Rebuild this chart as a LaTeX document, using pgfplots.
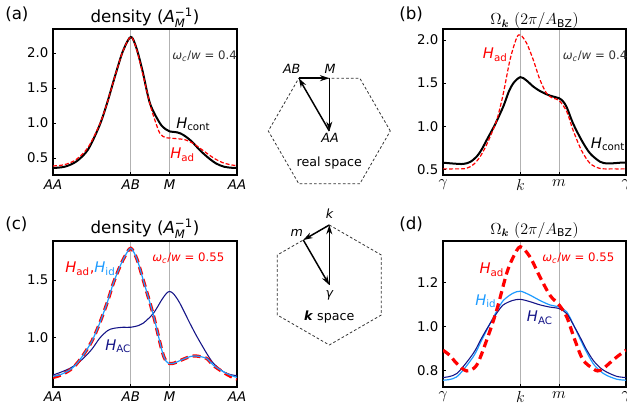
\documentclass[border=0pt]{standalone}
\usepackage{amsmath}
\usepackage{bm}
\usepackage{fontspec}
\setmainfont{DejaVu Sans}
\usepackage{pgfplots}
\pgfplotsset{compat=1.18}
\usetikzlibrary{arrows.meta}

\definecolor{hred}{RGB}{255,0,0}
\definecolor{hid}{RGB}{30,155,255}
\definecolor{hac}{RGB}{20,20,135}

\pgfplotsset{
  panel/.style={
    scale only axis, anchor=south west, height=109.5pt,
    xmin=0, xmax=2.366, xtick={0,1,1.5,2.366},
    xmajorgrids, grid style={gray!60, line width=0.6pt},
    tick pos=left, tick align=inside, major tick length=2.5pt,
    tick style={black, line width=0.7pt},
    axis line style={line width=0.9pt},
    ticklabel style={font=\fontsize{10}{12}\selectfont},
    /pgf/number format/assume math mode=true,
    /pgf/number format/fixed, /pgf/number format/fixed zerofill,
    /pgf/number format/precision=1,
    every axis plot/.append style={smooth, no markers},
  },
  realx/.style={xticklabels={\textit{AA},\textit{AB},\textit{M},\textit{AA}}},
  kx/.style={xticklabels={$\gamma$,$k$,$m$,$\gamma$},
    xticklabel style={font=\fontsize{12}{14}\selectfont}},
  cont/.style={black, line width=1.5pt},
  adthin/.style={hred, line width=0.9pt, dash pattern=on 3pt off 1.5pt},
  adthick/.style={hred, line width=2.4pt, dash pattern=on 6pt off 3.5pt},
  idline/.style={hid, line width=0.9pt},
  acline/.style={hac, line width=0.8pt},
}

\newcommand{\lab}{\fontsize{11}{13}\selectfont}
\newcommand{\ann}{\fontsize{8.8}{10}\selectfont}

\begin{document}
\begin{tikzpicture}[x=0.75pt, y=0.75pt]
\useasboundingbox (0,0) rectangle (627,414);

% (a) density, real space path
\begin{axis}[panel, realx, at={(39.75pt,179.25pt)}, width=138pt,
  ymin=0.257, ymax=2.343, ytick={0.5,1,1.5,2}]
\addplot[cont] coordinates {
 (0,0.357) (0.15,0.375) (0.3,0.45) (0.45,0.62) (0.6,0.97) (0.7,1.30)
 (0.8,1.68) (0.9,2.03) (1.0,2.23) (1.07,2.08) (1.15,1.75) (1.247,1.28)
 (1.375,0.996) (1.45,0.91) (1.5,0.88) (1.6,0.865) (1.675,0.83) (1.78,0.74)
 (1.89,0.61) (2.0,0.50) (2.1,0.42) (2.2,0.375) (2.3,0.36) (2.366,0.357)};
\addplot[adthin] coordinates {
 (0,0.386) (0.15,0.405) (0.3,0.48) (0.45,0.65) (0.6,0.98) (0.7,1.30)
 (0.8,1.68) (0.9,2.03) (1.0,2.23) (1.07,2.07) (1.15,1.72) (1.247,1.27)
 (1.31,1.04) (1.375,0.85) (1.44,0.795) (1.5,0.785) (1.6,0.775) (1.7,0.76)
 (1.8,0.71) (1.89,0.64) (1.975,0.57) (2.08,0.49) (2.19,0.43) (2.3,0.40) (2.366,0.39)};
\end{axis}

% (b) Berry curvature, k space path
\begin{axis}[panel, kx, at={(332.25pt,179.25pt)}, width=137.25pt,
  ymin=0.434, ymax=2.128, ytick={0.5,1,1.5,2}]
\addplot[cont] coordinates {
 (0,0.577) (0.13,0.567) (0.26,0.562) (0.35,0.585) (0.435,0.647) (0.5,0.73)
 (0.565,0.84) (0.67,1.015) (0.78,1.23) (0.85,1.40) (0.91,1.50) (1.0,1.57)
 (1.08,1.53) (1.167,1.46) (1.25,1.41) (1.34,1.37) (1.42,1.345) (1.5,1.325)
 (1.55,1.29) (1.6,1.22) (1.68,1.035) (1.79,0.84) (1.90,0.686) (2.03,0.588)
 (2.12,0.568) (2.2,0.57) (2.3,0.577) (2.366,0.577)};
\addplot[adthin] coordinates {
 (0,0.505) (0.15,0.505) (0.3,0.51) (0.4,0.56) (0.48,0.647) (0.55,0.76)
 (0.61,0.88) (0.695,1.07) (0.78,1.38) (0.866,1.77) (0.95,2.02) (1.0,2.06)
 (1.08,1.965) (1.167,1.77) (1.253,1.54) (1.34,1.38) (1.42,1.325) (1.5,1.30)
 (1.6,1.17) (1.68,0.957) (1.79,0.72) (1.90,0.57) (2.03,0.51) (2.2,0.505) (2.366,0.505)};
\end{axis}

% (c) density, real space path
\begin{axis}[panel, realx, at={(39.75pt,20.25pt)}, width=138pt,
  ymin=0.572, ymax=1.838, ytick={1,1.5}]
\addplot[acline] coordinates {
 (0,0.676) (0.1,0.70) (0.22,0.735) (0.3,0.77) (0.39,0.82) (0.5,0.90)
 (0.6,0.995) (0.7,1.06) (0.775,1.08) (0.9,1.09) (1.0,1.09) (1.1,1.105)
 (1.16,1.125) (1.29,1.21) (1.40,1.33) (1.46,1.385) (1.5,1.40) (1.55,1.38)
 (1.63,1.30) (1.76,1.125) (1.85,1.01) (1.975,0.865) (2.06,0.78) (2.19,0.705)
 (2.28,0.68) (2.366,0.67)};
\addplot[adthick] coordinates {
 (0,0.655) (0.1,0.675) (0.22,0.72) (0.3,0.77) (0.39,0.85) (0.5,0.97)
 (0.6,1.125) (0.7,1.31) (0.775,1.47) (0.85,1.60) (0.92,1.70) (1.0,1.775)
 (1.08,1.68) (1.16,1.50) (1.29,1.197) (1.40,0.89) (1.45,0.80) (1.5,0.775)
 (1.56,0.78) (1.63,0.80) (1.76,0.835) (1.85,0.84) (1.975,0.82) (2.06,0.76)
 (2.19,0.70) (2.28,0.665) (2.366,0.64)};
\addplot[idline] coordinates {
 (0,0.665) (0.1,0.68) (0.22,0.722) (0.3,0.77) (0.39,0.85) (0.5,0.97)
 (0.6,1.125) (0.7,1.31) (0.775,1.47) (0.85,1.60) (0.92,1.70) (1.0,1.775)
 (1.08,1.68) (1.16,1.50) (1.29,1.197) (1.40,0.89) (1.45,0.80) (1.5,0.775)
 (1.56,0.78) (1.63,0.80) (1.76,0.835) (1.85,0.84) (1.975,0.82) (2.06,0.762)
 (2.19,0.705) (2.28,0.675) (2.366,0.655)};
\end{axis}

% (d) Berry curvature, k space path
\begin{axis}[panel, kx, at={(332.25pt,20.25pt)}, width=137.25pt,
  ymin=0.727, ymax=1.39, ytick={0.8,1,1.2}]
\addplot[idline] coordinates {
 (0,0.758) (0.177,0.773) (0.39,0.864) (0.5,0.94) (0.608,1.015) (0.7,1.075)
 (0.78,1.12) (0.9,1.152) (1.0,1.162) (1.12,1.145) (1.253,1.12) (1.38,1.10)
 (1.5,1.09) (1.6,1.068) (1.7,1.0) (1.77,0.947) (1.85,0.89) (1.94,0.834)
 (2.03,0.80) (2.115,0.78) (2.25,0.762) (2.366,0.758)};
\addplot[acline] coordinates {
 (0,0.77) (0.177,0.788) (0.39,0.879) (0.5,0.95) (0.608,1.015) (0.7,1.065)
 (0.78,1.10) (0.9,1.12) (1.0,1.125) (1.12,1.115) (1.253,1.10) (1.38,1.09)
 (1.5,1.083) (1.6,1.06) (1.7,1.0) (1.77,0.955) (1.85,0.90) (1.94,0.849)
 (2.03,0.815) (2.115,0.795) (2.25,0.775) (2.366,0.77)};
\addplot[adthick] coordinates {
 (0,0.894) (0.09,0.87) (0.177,0.834) (0.306,0.80) (0.435,0.826) (0.565,0.94)
 (0.694,1.076) (0.823,1.243) (0.91,1.318) (1.0,1.364) (1.124,1.318)
 (1.253,1.227) (1.382,1.144) (1.5,1.10) (1.6,1.045) (1.705,0.94) (1.81,0.85)
 (1.94,0.81) (2.0,0.80) (2.07,0.81) (2.20,0.85) (2.29,0.875) (2.366,0.894)};
\end{axis}

% panel letters and titles
\begin{scope}[every node/.style={inner sep=0pt}]
\node[anchor=base west, font=\fontsize{12.5}{14}\selectfont] at (5,394) {(a)};
\node[anchor=base west, font=\fontsize{12.5}{14}\selectfont] at (399,394) {(b)};
\node[anchor=base west, font=\fontsize{12.5}{14}\selectfont] at (5,184) {(c)};
\node[anchor=base west, font=\fontsize{12.5}{14}\selectfont] at (399,184) {(d)};
\node[anchor=base, font=\fontsize{12.5}{14}\selectfont] at (145,391.5)
  {density (\textit{A}$^{\text{−1}}_{\text{\itshape M}}$)};
\node[anchor=base, font=\fontsize{12.5}{14}\selectfont] at (145,180.7)
  {density (\textit{A}$^{\text{−1}}_{\text{\itshape M}}$)};
\node[anchor=base, font=\fontsize{11.5}{14}\selectfont] at (534.5,389)
  {$\Omega_{\bm{k}}\ (2\pi/A_{\mathrm{BZ}})$};
\node[anchor=base, font=\fontsize{11.5}{14}\selectfont] at (534.5,179.7)
  {$\Omega_{\bm{k}}\ (2\pi/A_{\mathrm{BZ}})$};

% annotations
\node[anchor=base west, font=\ann, text=black!80] at (172,354)
  {\textit{ω}\textsubscript{\textit{c}}/\textit{w} = 0.4};
\node[anchor=base west, font=\ann, text=black!80] at (562.5,354)
  {\textit{ω}\textsubscript{\textit{c}}/\textit{w} = 0.4};
\node[anchor=base west, font=\ann, text=hred] at (152,152.3)
  {\textit{ω}\textsubscript{\textit{c}}/\textit{w} = 0.55};
\node[anchor=base west, font=\ann, text=hred] at (542,152.3)
  {\textit{ω}\textsubscript{\textit{c}}/\textit{w} = 0.55};

\node[anchor=base west, font=\lab] at (176,285.7) {\textit{H}\textsubscript{cont}};
\node[anchor=base west, font=\lab, text=hred] at (170,255.7) {\textit{H}\textsubscript{ad}};
\node[anchor=base west, font=\lab, text=hred] at (482.7,355.7) {\textit{H}\textsubscript{ad}};
\node[anchor=base west, font=\lab] at (590.7,265.7) {\textit{H}\textsubscript{cont}};
\node[anchor=base west, font=\lab] at (65,141.7)
  {{\color{hred}\textit{H}\textsubscript{ad},}{\color{hid}\textit{H}\textsubscript{id}}};
\node[anchor=base west, font=\lab, text=hac] at (105,64) {\textit{H}\textsubscript{AC}};
\node[anchor=base west, font=\lab, text=hred] at (479.3,140.7) {\textit{H}\textsubscript{ad}};
\node[anchor=base west, font=\lab, text=hid] at (475,109) {\textit{H}\textsubscript{id}};
\node[anchor=base west, font=\lab, text=hac] at (526.7,92.3) {\textit{H}\textsubscript{AC}};
\end{scope}

% real space sketch
\draw[black!80, line width=0.6pt, dash pattern=on 2pt off 1.6pt]
  (390.3,283) -- (359.8,335.8) -- (298.8,335.8) -- (268.3,283)
  -- (298.8,230.2) -- (359.8,230.2) -- cycle;
\begin{scope}[line width=1.1pt, -{Stealth[length=7pt,width=4.5pt]}]
\draw (329.3,283) -- (298.8,335.8);
\draw (298.8,335.8) -- (329.3,335.8);
\draw (329.3,335.8) -- (329.3,283);
\end{scope}

% k space sketch
\draw[black!80, line width=0.6pt, dash pattern=on 2pt off 1.6pt]
  (329.3,189) -- (381.3,159) -- (381.3,99) -- (329.3,69)
  -- (277.3,99) -- (277.3,159) -- cycle;
\begin{scope}[line width=1.1pt, -{Stealth[length=7pt,width=4.5pt]}]
\draw (329.3,129) -- (329.3,189);
\draw (329.3,189) -- (303.3,174);
\draw (303.3,174) -- (329.3,129);
\end{scope}

\begin{scope}[every node/.style={inner sep=0pt, font=\fontsize{9.5}{11}\selectfont}]
\node at (291.7,344.8) {\textit{AB}};
\node at (330,344.8) {\textit{M}};
\node at (330,275.7) {\textit{AA}};
\node at (329.3,250.7) {real space};
\node at (329.7,200.7) {\textit{k}};
\node at (296.7,181) {\textit{m}};
\node at (329.7,119) {\textit{γ}};
\node at (329.2,97.3) {\textbf{\textit{k}} space};
\end{scope}
\end{tikzpicture}
\end{document}
